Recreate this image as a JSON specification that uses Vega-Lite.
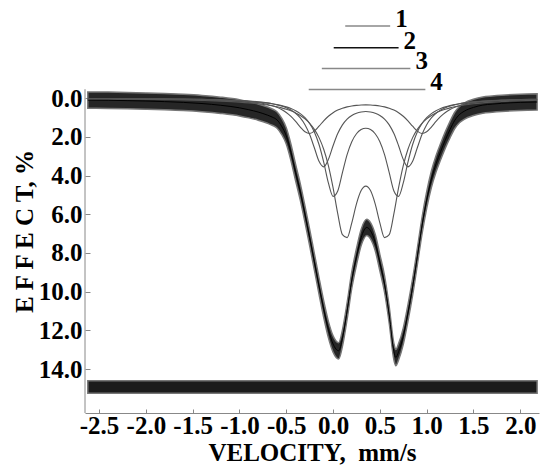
{
 "$schema": "https://vega.github.io/schema/vega-lite/v6.json",
 "width": 454,
 "height": 402,
 "autosize": {"type": "none"},
 "padding": {"left": 85, "top": 11, "right": 11, "bottom": 55},
 "background": "white",
 "config": {
  "view": {"stroke": null},
  "font": "Liberation Serif",
  "axis": {
   "grid": false,
   "domainColor": "#888",
   "domainWidth": 1,
   "tickColor": "#888",
   "labelFont": "Liberation Serif",
   "labelFontSize": 25,
   "labelFontWeight": "bold",
   "labelColor": "black",
   "labelOverlap": false,
   "labelFlush": false,
   "titleFont": "Liberation Serif",
   "titleFontSize": 25,
   "titleFontWeight": "bold",
   "titleColor": "black"
  },
  "axisX": {"tickSize": -4, "labelPadding": 4, "titleY": 47, "titleBaseline": "alphabetic"},
  "axisY": {"domain": false, "tickSize": -5, "labelPadding": 8, "titleX": -53, "titleY": 220, "titleAngle": -90, "titleAlign": "center", "titleBaseline": "alphabetic"}
 },
 "datasets": {
  "ax": [{"v": -2.65, "y": -0.46, "y2": 16.265}],
  "res": [{"v": -2.62, "lo": 14.6, "hi": 15.24}, {"v": 2.18, "lo": 14.6, "hi": 15.24}],
  "leg": [
   {"k": "1", "v": 0.13, "v2": 0.61, "y": -3.72},
   {"k": "2", "v": 0.007, "v2": 0.70, "y": -2.60},
   {"k": "3", "v": -0.12, "v2": 0.826, "y": -1.53},
   {"k": "4", "v": -0.26, "v2": 0.986, "y": -0.45}
  ],
  "main": [
   {"v": -2.62, "e": 0.10, "lo": -0.32, "hi": 0.52},
   {"v": -2.4, "e": 0.11, "lo": -0.31, "hi": 0.53},
   {"v": -2.2, "e": 0.13, "lo": -0.29, "hi": 0.55},
   {"v": -2.0, "e": 0.15, "lo": -0.27, "hi": 0.57},
   {"v": -1.8, "e": 0.18, "lo": -0.24, "hi": 0.60},
   {"v": -1.6, "e": 0.22, "lo": -0.20, "hi": 0.64},
   {"v": -1.4, "e": 0.28, "lo": -0.14, "hi": 0.70},
   {"v": -1.2, "e": 0.37, "lo": -0.05, "hi": 0.79},
   {"v": -1.0, "e": 0.50, "lo": 0.08, "hi": 0.92},
   {"v": -0.9, "e": 0.60, "lo": 0.18, "hi": 1.02},
   {"v": -0.8, "e": 0.72, "lo": 0.30, "hi": 1.14},
   {"v": -0.7, "e": 0.88, "lo": 0.46, "hi": 1.30},
   {"v": -0.65, "e": 0.98, "lo": 0.56, "hi": 1.40},
   {"v": -0.6, "e": 1.12, "lo": 0.70, "hi": 1.54},
   {"v": -0.55, "e": 1.45, "lo": 1.03, "hi": 1.87},
   {"v": -0.5, "e": 1.95, "lo": 1.53, "hi": 2.37},
   {"v": -0.45, "e": 2.80, "lo": 2.38, "hi": 3.22},
   {"v": -0.4, "e": 3.85, "lo": 3.43, "hi": 4.27},
   {"v": -0.35, "e": 4.85, "lo": 4.43, "hi": 5.27},
   {"v": -0.3, "e": 6.00, "lo": 5.58, "hi": 6.42},
   {"v": -0.25, "e": 7.20, "lo": 6.78, "hi": 7.62},
   {"v": -0.2, "e": 8.45, "lo": 8.03, "hi": 8.87},
   {"v": -0.15, "e": 9.70, "lo": 9.28, "hi": 10.12},
   {"v": -0.1, "e": 10.90, "lo": 10.48, "hi": 11.32},
   {"v": -0.05, "e": 11.95, "lo": 11.53, "hi": 12.37},
   {"v": 0.0, "e": 12.70, "lo": 12.28, "hi": 13.12},
   {"v": 0.06, "e": 13.05, "lo": 12.63, "hi": 13.47},
   {"v": 0.1, "e": 12.40, "lo": 11.98, "hi": 12.82},
   {"v": 0.15, "e": 11.00, "lo": 10.58, "hi": 11.42},
   {"v": 0.2, "e": 9.40, "lo": 8.98, "hi": 9.82},
   {"v": 0.25, "e": 8.20, "lo": 7.78, "hi": 8.62},
   {"v": 0.3, "e": 7.20, "lo": 6.78, "hi": 7.62},
   {"v": 0.36, "e": 6.68, "lo": 6.26, "hi": 7.10},
   {"v": 0.4, "e": 6.85, "lo": 6.43, "hi": 7.27},
   {"v": 0.45, "e": 7.45, "lo": 7.03, "hi": 7.87},
   {"v": 0.5, "e": 8.50, "lo": 8.08, "hi": 8.92},
   {"v": 0.55, "e": 9.60, "lo": 9.18, "hi": 10.02},
   {"v": 0.6, "e": 11.20, "lo": 10.78, "hi": 11.62},
   {"v": 0.65, "e": 13.10, "lo": 12.68, "hi": 13.52},
   {"v": 0.67, "e": 13.40, "lo": 12.98, "hi": 13.82},
   {"v": 0.7, "e": 13.10, "lo": 12.68, "hi": 13.52},
   {"v": 0.75, "e": 12.30, "lo": 11.88, "hi": 12.72},
   {"v": 0.8, "e": 11.10, "lo": 10.68, "hi": 11.52},
   {"v": 0.85, "e": 9.75, "lo": 9.33, "hi": 10.17},
   {"v": 0.9, "e": 8.20, "lo": 7.78, "hi": 8.62},
   {"v": 0.95, "e": 6.60, "lo": 6.18, "hi": 7.02},
   {"v": 1.0, "e": 5.27, "lo": 4.85, "hi": 5.69},
   {"v": 1.05, "e": 4.20, "lo": 3.78, "hi": 4.62},
   {"v": 1.1, "e": 3.40, "lo": 2.98, "hi": 3.82},
   {"v": 1.15, "e": 2.75, "lo": 2.33, "hi": 3.17},
   {"v": 1.2, "e": 2.15, "lo": 1.73, "hi": 2.57},
   {"v": 1.25, "e": 1.62, "lo": 1.20, "hi": 2.04},
   {"v": 1.3, "e": 1.15, "lo": 0.73, "hi": 1.57},
   {"v": 1.35, "e": 0.85, "lo": 0.43, "hi": 1.27},
   {"v": 1.4, "e": 0.68, "lo": 0.26, "hi": 1.10},
   {"v": 1.5, "e": 0.48, "lo": 0.06, "hi": 0.90},
   {"v": 1.6, "e": 0.36, "lo": -0.06, "hi": 0.78},
   {"v": 1.7, "e": 0.31, "lo": -0.11, "hi": 0.73},
   {"v": 1.8, "e": 0.27, "lo": -0.15, "hi": 0.69},
   {"v": 2.0, "e": 0.22, "lo": -0.20, "hi": 0.64},
   {"v": 2.18, "e": 0.20, "lo": -0.22, "hi": 0.62}
  ],
  "comp": [
   {"v": -2.62, "c1": 0.018, "c2": 0.019, "c3": 0.025, "c4": 0.041},
   {"v": -2.4, "c1": 0.022, "c2": 0.023, "c3": 0.030, "c4": 0.048},
   {"v": -2.2, "c1": 0.026, "c2": 0.027, "c3": 0.035, "c4": 0.055},
   {"v": -2.0, "c1": 0.031, "c2": 0.032, "c3": 0.041, "c4": 0.066},
   {"v": -1.8, "c1": 0.039, "c2": 0.039, "c3": 0.050, "c4": 0.079},
   {"v": -1.6, "c1": 0.049, "c2": 0.049, "c3": 0.061, "c4": 0.096},
   {"v": -1.4, "c1": 0.065, "c2": 0.063, "c3": 0.078, "c4": 0.120},
   {"v": -1.2, "c1": 0.092, "c2": 0.085, "c3": 0.102, "c4": 0.155},
   {"v": -1.0, "c1": 0.138, "c2": 0.121, "c3": 0.140, "c4": 0.207},
   {"v": -0.9, "c1": 0.177, "c2": 0.149, "c3": 0.168, "c4": 0.244},
   {"v": -0.8, "c1": 0.234, "c2": 0.189, "c3": 0.205, "c4": 0.293},
   {"v": -0.7, "c1": 0.325, "c2": 0.247, "c3": 0.258, "c4": 0.357},
   {"v": -0.65, "c1": 0.390, "c2": 0.287, "c3": 0.292, "c4": 0.398},
   {"v": -0.6, "c1": 0.477, "c2": 0.338, "c3": 0.335, "c4": 0.446},
   {"v": -0.55, "c1": 0.592, "c2": 0.404, "c3": 0.387, "c4": 0.503},
   {"v": -0.5, "c1": 0.745, "c2": 0.493, "c3": 0.453, "c4": 0.573},
   {"v": -0.45, "c1": 0.948, "c2": 0.612, "c3": 0.539, "c4": 0.658},
   {"v": -0.4, "c1": 1.205, "c2": 0.780, "c3": 0.651, "c4": 0.765},
   {"v": -0.35, "c1": 1.493, "c2": 1.020, "c3": 0.802, "c4": 0.900},
   {"v": -0.3, "c1": 1.738, "c2": 1.372, "c3": 1.013, "c4": 1.075},
   {"v": -0.25, "c1": 1.827, "c2": 1.882, "c3": 1.313, "c4": 1.304},
   {"v": -0.2, "c1": 1.707, "c2": 2.566, "c3": 1.750, "c4": 1.614},
   {"v": -0.15, "c1": 1.452, "c2": 3.267, "c3": 2.397, "c4": 2.040},
   {"v": -0.1, "c1": 1.174, "c2": 3.551, "c3": 3.309, "c4": 2.640},
   {"v": -0.05, "c1": 0.936, "c2": 3.165, "c3": 4.379, "c4": 3.481},
   {"v": 0.0, "c1": 0.753, "c2": 2.461, "c3": 5.073, "c4": 4.624},
   {"v": 0.05, "c1": 0.618, "c2": 1.831, "c3": 4.796, "c4": 5.971},
   {"v": 0.1, "c1": 0.521, "c2": 1.381, "c3": 3.851, "c4": 7.054},
   {"v": 0.15, "c1": 0.452, "c2": 1.084, "c3": 2.916, "c4": 7.205},
   {"v": 0.2, "c1": 0.405, "c2": 0.894, "c3": 2.251, "c4": 6.441},
   {"v": 0.25, "c1": 0.374, "c2": 0.777, "c3": 1.840, "c4": 5.461},
   {"v": 0.3, "c1": 0.356, "c2": 0.715, "c3": 1.623, "c4": 4.778},
   {"v": 0.35, "c1": 0.351, "c2": 0.695, "c3": 1.555, "c4": 4.546},
   {"v": 0.4, "c1": 0.356, "c2": 0.715, "c3": 1.623, "c4": 4.778},
   {"v": 0.45, "c1": 0.374, "c2": 0.777, "c3": 1.840, "c4": 5.461},
   {"v": 0.5, "c1": 0.405, "c2": 0.894, "c3": 2.251, "c4": 6.441},
   {"v": 0.55, "c1": 0.452, "c2": 1.084, "c3": 2.916, "c4": 7.205},
   {"v": 0.6, "c1": 0.521, "c2": 1.381, "c3": 3.851, "c4": 7.054},
   {"v": 0.65, "c1": 0.618, "c2": 1.831, "c3": 4.796, "c4": 5.971},
   {"v": 0.7, "c1": 0.753, "c2": 2.461, "c3": 5.073, "c4": 4.624},
   {"v": 0.75, "c1": 0.936, "c2": 3.165, "c3": 4.379, "c4": 3.481},
   {"v": 0.8, "c1": 1.174, "c2": 3.551, "c3": 3.309, "c4": 2.640},
   {"v": 0.85, "c1": 1.452, "c2": 3.267, "c3": 2.397, "c4": 2.040},
   {"v": 0.9, "c1": 1.707, "c2": 2.566, "c3": 1.750, "c4": 1.614},
   {"v": 0.95, "c1": 1.827, "c2": 1.882, "c3": 1.313, "c4": 1.304},
   {"v": 1.0, "c1": 1.738, "c2": 1.372, "c3": 1.013, "c4": 1.075},
   {"v": 1.05, "c1": 1.493, "c2": 1.020, "c3": 0.802, "c4": 0.900},
   {"v": 1.1, "c1": 1.205, "c2": 0.780, "c3": 0.651, "c4": 0.765},
   {"v": 1.15, "c1": 0.948, "c2": 0.612, "c3": 0.539, "c4": 0.658},
   {"v": 1.2, "c1": 0.745, "c2": 0.493, "c3": 0.453, "c4": 0.573},
   {"v": 1.25, "c1": 0.592, "c2": 0.404, "c3": 0.387, "c4": 0.503},
   {"v": 1.3, "c1": 0.477, "c2": 0.338, "c3": 0.335, "c4": 0.446},
   {"v": 1.35, "c1": 0.390, "c2": 0.287, "c3": 0.292, "c4": 0.398},
   {"v": 1.4, "c1": 0.325, "c2": 0.247, "c3": 0.258, "c4": 0.357},
   {"v": 1.5, "c1": 0.234, "c2": 0.189, "c3": 0.205, "c4": 0.293},
   {"v": 1.6, "c1": 0.177, "c2": 0.149, "c3": 0.168, "c4": 0.244},
   {"v": 1.7, "c1": 0.138, "c2": 0.121, "c3": 0.140, "c4": 0.207},
   {"v": 1.8, "c1": 0.111, "c2": 0.101, "c3": 0.118, "c4": 0.178},
   {"v": 2.0, "c1": 0.077, "c2": 0.073, "c3": 0.088, "c4": 0.136},
   {"v": 2.18, "c1": 0.058, "c2": 0.057, "c3": 0.070, "c4": 0.110}
  ]
 },
 "encoding": {
  "x": {
   "field": "v",
   "type": "quantitative",
   "title": "VELOCITY, \u00a0mm/s",
   "scale": {"domain": [-2.65, 2.2], "nice": false, "zero": false},
   "axis": {
    "values": [-2.5, -2, -1.5, -1, -0.5, 0, 0.5, 1, 1.5, 2],
    "labelExpr": "datum.value < 0 ? '-' + format(-datum.value, '.1f') : format(datum.value, '.1f')"
   }
  }
 },
 "layer": [
  {
   "data": {"name": "ax"},
   "mark": {"type": "rule", "color": "#888", "strokeWidth": 1},
   "encoding": {
    "y": {
     "field": "y",
     "type": "quantitative",
     "title": "E F F E C T, %",
     "scale": {"domain": [-4.5, 16.265], "reverse": true, "nice": false, "zero": false},
     "axis": {"values": [0, 2, 4, 6, 8, 10, 12, 14], "format": ".1f"}
    },
    "y2": {"field": "y2"}
   }
  },
  {
   "data": {"name": "main"},
   "mark": {"type": "area", "fill": "#262626", "stroke": "#777", "strokeWidth": 1.5, "interpolate": "monotone"},
   "encoding": {
    "y": {"field": "lo", "type": "quantitative", "title": "E F F E C T, %"},
    "y2": {"field": "hi"}
   }
  },
  {
   "data": {"name": "main"},
   "mark": {"type": "line", "color": "black", "strokeWidth": 1, "interpolate": "monotone"},
   "encoding": {"y": {"field": "e", "type": "quantitative", "title": "E F F E C T, %"}}
  },
  {
   "data": {"name": "res"},
   "mark": {"type": "area", "fill": "#1c1c1c", "stroke": "#777", "strokeWidth": 1.5},
   "encoding": {
    "y": {"field": "lo", "type": "quantitative", "title": "E F F E C T, %"},
    "y2": {"field": "hi"}
   }
  },
  {
   "data": {"name": "comp"},
   "mark": {"type": "line", "color": "#555", "strokeWidth": 1.1, "interpolate": "monotone"},
   "encoding": {"y": {"field": "c1", "type": "quantitative", "title": "E F F E C T, %"}}
  },
  {
   "data": {"name": "comp"},
   "mark": {"type": "line", "color": "#555", "strokeWidth": 1.1, "interpolate": "monotone"},
   "encoding": {"y": {"field": "c2", "type": "quantitative", "title": "E F F E C T, %"}}
  },
  {
   "data": {"name": "comp"},
   "mark": {"type": "line", "color": "#555", "strokeWidth": 1.1, "interpolate": "monotone"},
   "encoding": {"y": {"field": "c3", "type": "quantitative", "title": "E F F E C T, %"}}
  },
  {
   "data": {"name": "comp"},
   "mark": {"type": "line", "color": "#555", "strokeWidth": 1.1, "interpolate": "monotone"},
   "encoding": {"y": {"field": "c4", "type": "quantitative", "title": "E F F E C T, %"}}
  },
  {
   "data": {"name": "leg"},
   "mark": {"type": "rule", "strokeWidth": 1.5},
   "encoding": {
    "x2": {"field": "v2"},
    "y": {"field": "y", "type": "quantitative", "title": "E F F E C T, %"},
    "color": {"field": "k", "type": "nominal", "scale": {"domain": ["1", "2", "3", "4"], "range": ["#888", "#111", "#888", "#888"]}, "legend": null}
   }
  },
  {
   "data": {"name": "leg"},
   "mark": {"type": "text", "align": "left", "baseline": "alphabetic", "dx": 5, "dy": 1, "font": "Liberation Serif", "fontSize": 25, "fontWeight": "bold", "color": "black"},
   "encoding": {
    "x": {"field": "v2", "type": "quantitative", "title": "VELOCITY, \u00a0mm/s"},
    "y": {"field": "y", "type": "quantitative", "title": "E F F E C T, %"},
    "text": {"field": "k"}
   }
  }
 ]
}
